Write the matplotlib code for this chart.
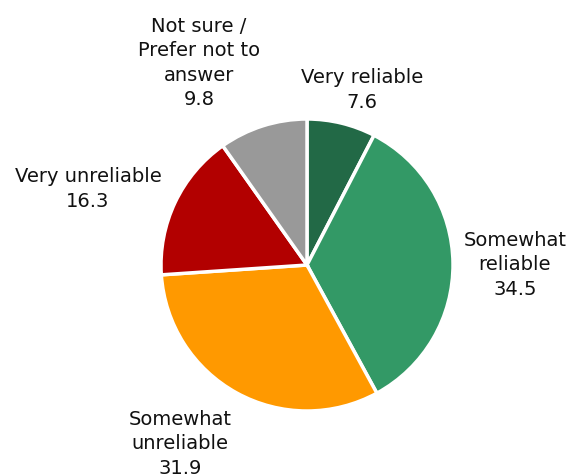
import matplotlib

matplotlib.use("Agg")

import matplotlib.pyplot as plt

labels = ["Very reliable", "Somewhat\nreliable", "Somewhat\nunreliable", "Very unreliable", "Not sure /\nPrefer not to\nanswer"]
values = [7.6, 34.5, 31.9, 16.3, 9.8]
colors = ["#226946", "#339966", "#FF9900", "#B20000", "#999999"]
explode = [0, 0.02, 0, 0, 0]

# label centres in pixel coords (x, y from top)
label_pos = [(362, 90), (515, 265), (180, 444), (88, 189), (199, 63)]

W, H = 570, 477
fig = plt.figure(figsize=(W / 100, H / 100), dpi=100)
ax = fig.add_axes([0, 0, 1, 1])

ax.pie(
    values,
    colors=colors,
    explode=explode,
    startangle=90,
    counterclock=False,
    center=(307, H - 266),
    radius=146,
    wedgeprops={"edgecolor": "white", "linewidth": 2.5},
    frame=True,
)
ax.set_xlim(0, W)
ax.set_ylim(0, H)
ax.set_aspect("equal")
ax.axis("off")

for lab, val, (x, y) in zip(labels, values, label_pos):
    ax.text(x, H - y, f"{lab}\n{val:.1f}", ha="center", va="center",
            fontsize=14, linespacing=1.36, color="#111111")

fig.savefig("out.png", dpi=100, facecolor="white")
